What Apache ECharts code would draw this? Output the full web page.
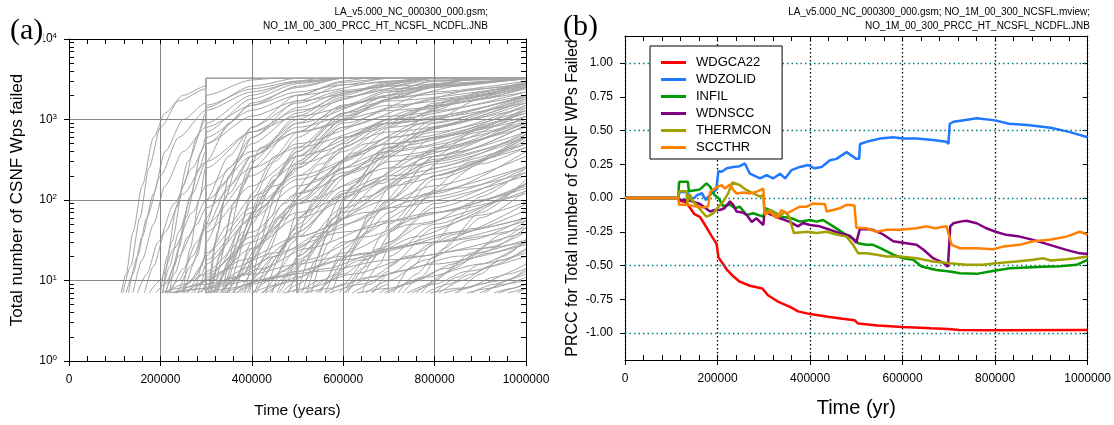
<!DOCTYPE html>
<html><head><meta charset="utf-8">
<script src="https://cdn.jsdelivr.net/npm/echarts@6/dist/echarts.min.js"></script>
<style>html,body{margin:0;padding:0;background:#fff}#c{width:1114px;height:425px}</style>
</head><body><div id="c"></div>
<script>
// ---------- Panel (a): realizations, [time (kyr), count, time, count, ...] ----------
const groupEarly = [
 [114,7, 125,12, 140,40, 160,150, 185,600, 210,1200, 250,2000, 299,2600, 300,3250, 1000,3250],
 [118,7, 135,15, 155,60, 175,250, 200,800, 240,1700, 299,2400, 300,3250, 1000,3250],
 [125,7, 140,12, 160,35, 185,120, 210,400, 250,1000, 299,1600, 300,3250, 1000,3250],
 [130,7, 150,20, 170,60, 200,200, 240,600, 300,1300, 400,2200, 500,2900, 600,3250, 1000,3250],
 [140,7, 160,18, 185,50, 210,150, 250,400, 300,800, 400,1500, 500,2200, 600,2700, 800,3250, 1000,3250],
 [150,7, 170,12, 195,30, 230,90, 270,250, 300,500, 400,1100, 500,1700, 700,2600, 1000,3250],
 [165,7, 185,15, 210,40, 250,120, 300,300, 400,700, 500,1100, 700,1900, 1000,2800],
 [175,7, 200,10, 230,25, 270,70, 300,150, 400,400, 500,700, 700,1300, 1000,2200],
 [190,7, 210,9, 240,20, 280,50, 300,80, 400,250, 500,450, 700,900, 1000,1600],
 [200,7, 215,20, 235,80, 260,300, 299,1000, 300,1400, 400,2600, 500,3250, 1000,3250],
 [205,7, 225,30, 250,150, 280,600, 299,1200, 300,2000, 400,3100, 450,3250, 1000,3250],
 [212,7, 230,15, 255,60, 285,250, 299,400, 300,700, 400,1800, 500,2800, 600,3250, 1000,3250],
 [220,7, 240,25, 265,110, 290,400, 299,600, 300,900, 400,2000, 500,3000, 550,3250, 1000,3250],
 [250,7, 265,25, 285,100, 299,250, 300,500, 400,1500, 500,2600, 600,3250, 1000,3250]
];
const group200k = [
 [205,7, 220,15, 240,40, 270,120, 300,300, 350,900, 400,1600, 500,2500, 600,3250, 1000,3250],
 [210,7, 230,12, 260,35, 300,100, 350,350, 400,800, 500,1600, 600,2300, 800,3250, 1000,3250],
 [215,7, 240,10, 270,20, 300,45, 350,150, 400,350, 500,800, 700,1700, 1000,2700],
 [222,7, 250,14, 280,30, 300,50, 400,200, 500,500, 700,1100, 1000,2000],
 [230,7, 260,9, 290,15, 300,22, 400,80, 500,200, 700,500, 1000,1000],
 [238,7, 270,16, 300,50, 330,150, 400,500, 500,1200, 600,2000, 700,2800, 800,3250, 1000,3250],
 [245,7, 275,11, 300,20, 350,50, 400,110, 500,280, 700,700, 1000,1400],
 [252,7, 280,20, 300,60, 350,250, 400,600, 500,1400, 600,2200, 800,3250, 1000,3250],
 [260,7, 290,12, 300,16, 400,60, 500,150, 700,400, 1000,900],
 [268,7, 290,9, 300,11, 400,35, 500,90, 700,250, 1000,600],
 [275,7, 295,18, 300,30, 350,120, 400,350, 500,900, 700,2000, 900,3250, 1000,3250],
 [283,7, 300,13, 400,40, 500,120, 700,350, 1000,800],
 [290,7, 300,9, 400,25, 500,60, 700,180, 1000,450],
 [210,7, 250,9, 300,12, 400,30, 500,70, 700,200, 1000,500],
 [228,7, 300,8, 400,15, 500,35, 700,100, 1000,260]
];
const jump300k = [
 [299,7, 300,3250, 1000,3250],
 [299,7, 300,1500, 400,2400, 500,3000, 600,3250, 1000,3250],
 [299,7, 300,600, 400,1300, 500,2000, 700,3000, 800,3250, 1000,3250],
 [299,7, 300,250, 400,700, 500,1300, 700,2400, 1000,3250],
 [299,7, 300,100, 400,350, 500,700, 700,1500, 1000,2600],
 [299,7, 300,40, 400,150, 500,350, 700,900, 1000,1900],
 [299,7, 300,18, 400,70, 500,180, 700,500, 1000,1200],
 [305,7, 320,30, 340,100, 370,300, 400,600, 500,1700, 600,2700, 700,3250, 1000,3250],
 [308,7, 325,40, 350,200, 400,800, 500,2000, 600,3000, 650,3250, 1000,3250],
 [312,7, 335,25, 360,90, 400,300, 500,1100, 600,2100, 700,2900, 800,3250, 1000,3250],
 [318,7, 345,30, 380,150, 420,450, 500,1000, 600,1900, 800,3100, 1000,3250],
 [325,7, 350,18, 400,100, 450,300, 500,600, 600,1400, 700,2200, 900,3200, 1000,3250],
 [335,7, 370,40, 400,120, 450,350, 500,700, 600,1500, 800,2700, 1000,3250],
 [342,7, 380,30, 420,110, 500,400, 600,1100, 700,1800, 900,2900, 1000,3200],
 [350,7, 400,50, 450,180, 500,400, 600,1200, 800,2600, 1000,3200],
 [385,7, 420,40, 460,150, 500,300, 600,900, 800,2200, 1000,3000],
 [395,7, 440,60, 480,200, 500,280, 600,800, 700,1400, 900,2400, 1000,2800]
];
const group300k = [
 [310,7, 330,20, 360,80, 400,250, 500,900, 600,1800, 700,2600, 800,3250, 1000,3250],
 [315,7, 340,12, 380,40, 420,120, 500,350, 600,800, 800,1800, 1000,2800],
 [322,7, 350,15, 400,60, 500,250, 600,600, 800,1500, 1000,2400],
 [330,7, 360,10, 400,25, 500,100, 600,250, 800,700, 1000,1300],
 [338,7, 370,25, 400,70, 450,200, 500,450, 600,1200, 700,2000, 800,2800, 900,3250, 1000,3250],
 [345,7, 380,12, 420,30, 500,90, 600,220, 800,600, 1000,1100],
 [355,7, 390,9, 450,20, 500,40, 600,110, 800,350, 1000,700],
 [362,7, 400,30, 450,120, 500,350, 600,1000, 700,1800, 800,2600, 1000,3250],
 [370,7, 410,14, 460,45, 500,90, 600,300, 700,600, 1000,1700],
 [380,7, 420,11, 480,30, 500,40, 600,120, 800,400, 1000,900],
 [390,7, 430,20, 480,80, 500,120, 600,450, 700,900, 900,2000, 1000,2500],
 [400,7, 440,10, 500,25, 600,80, 800,300, 1000,650],
 [410,7, 450,16, 500,50, 600,200, 700,450, 800,800, 1000,1600],
 [420,7, 460,9, 499,15, 500,60, 600,250, 700,600, 1000,1900],
 [430,7, 470,25, 499,70, 500,300, 600,1000, 700,1800, 800,2500, 1000,3250],
 [440,7, 480,12, 500,20, 600,70, 800,280, 1000,600],
 [455,7, 490,15, 500,18, 600,50, 800,150, 1000,350],
 [465,7, 499,10, 500,120, 600,400, 700,800, 1000,2000],
 [475,7, 500,9, 600,30, 800,110, 1000,260],
 [490,7, 499,8, 500,35, 600,130, 700,300, 1000,900],
 [300,7, 330,15, 380,50, 450,150, 550,400, 700,1000, 850,1800, 1000,2500],
 [320,7, 360,20, 420,80, 500,250, 600,600, 750,1300, 1000,2600],
 [330,7, 380,12, 440,40, 520,130, 620,350, 780,900, 1000,1800],
 [345,7, 400,18, 460,60, 540,180, 650,500, 800,1100, 1000,2000],
 [360,7, 410,25, 470,90, 550,280, 650,700, 800,1500, 1000,2900],
 [375,7, 430,14, 500,45, 600,150, 750,450, 1000,1300],
 [405,7, 450,20, 520,70, 620,220, 760,600, 1000,1500],
 [425,7, 470,13, 540,35, 650,110, 800,320, 1000,850],
 [445,7, 490,30, 540,110, 620,380, 720,900, 850,1800, 1000,2700],
 [460,7, 510,16, 580,50, 680,160, 820,450, 1000,1100]
];
const jump500k = [
 [499,7, 500,2000, 600,2900, 700,3250, 1000,3250],
 [499,7, 500,700, 600,1500, 700,2300, 800,3000, 1000,3250],
 [499,7, 500,200, 600,500, 700,1000, 1000,2200],
 [499,7, 500,60, 600,200, 700,450, 1000,1200],
 [499,7, 500,20, 600,60, 700,150, 1000,500]
];
const group500k = [
 [510,7, 540,18, 580,60, 600,100, 700,400, 800,900, 1000,2000],
 [520,7, 560,10, 600,25, 700,100, 800,250, 1000,700],
 [530,7, 570,30, 600,80, 700,350, 800,800, 1000,1800],
 [545,7, 590,12, 650,40, 700,70, 800,200, 1000,550],
 [560,7, 600,9, 650,18, 700,30, 800,90, 1000,250],
 [575,7, 610,20, 660,70, 700,140, 800,450, 1000,1300],
 [590,7, 630,10, 680,22, 700,30, 800,80, 1000,220],
 [605,7, 640,14, 690,40, 700,50, 800,180, 1000,600],
 [620,7, 660,9, 699,13, 700,100, 800,350, 1000,1100],
 [640,7, 680,16, 699,25, 700,40, 800,120, 1000,400],
 [660,7, 699,9, 700,15, 800,45, 1000,160],
 [680,7, 699,8, 700,12, 800,30, 1000,90],
 [480,7, 520,20, 580,60, 650,150, 750,350, 900,700, 1000,950],
 [550,7, 600,20, 660,60, 740,170, 850,400, 1000,850],
 [610,7, 650,15, 720,50, 800,130, 900,280, 1000,450],
 [665,7, 699,12, 700,40, 780,120, 880,300, 1000,650],
 [560,7, 620,25, 700,100, 800,350, 900,800, 1000,1400],
 [500,7, 540,30, 600,120, 700,450, 800,1000, 900,1800, 1000,2500],
 [520,7, 570,40, 620,150, 700,500, 800,1300, 900,2200, 1000,3000]
];
const jump700k = [
 [699,7, 700,2200, 800,3000, 900,3250, 1000,3250],
 [699,7, 700,800, 800,1600, 1000,2800],
 [699,7, 700,250, 800,600, 1000,1500],
 [699,7, 700,70, 800,200, 1000,600],
 [699,7, 700,20, 800,50, 1000,160]
];
const group700k = [
 [720,7, 760,12, 800,20, 850,35, 900,60, 1000,130],
 [740,7, 790,9, 840,14, 900,22, 1000,45],
 [760,7, 800,10, 860,18, 930,30, 1000,50],
 [780,7, 830,9, 880,12, 950,18, 1000,25],
 [800,7, 850,11, 900,16, 1000,30],
 [820,7, 870,8, 930,11, 1000,16],
 [845,7, 900,9, 960,12, 1000,14],
 [870,7, 920,8, 1000,11],
 [900,7, 950,9, 1000,10],
 [930,7, 970,8, 1000,9],
 [960,7, 1000,8],
 [710,7, 750,15, 800,30, 850,60, 900,110, 1000,250],
 [730,7, 770,11, 820,25, 900,70, 1000,180]
];
const groupLow = [
 [200,7, 240,8, 300,9, 400,12, 500,16, 600,20, 800,30, 1000,45],
 [215,7, 300,8, 400,10, 550,13, 700,18, 900,25, 1000,30],
 [235,7, 280,9, 350,14, 450,22, 600,40, 800,70, 1000,120],
 [255,7, 300,10, 380,18, 500,35, 650,70, 850,140, 1000,220],
 [280,7, 330,9, 420,14, 520,25, 700,55, 1000,140],
 [300,7, 350,8, 450,11, 600,18, 800,30, 1000,55],
 [310,7, 360,11, 450,20, 560,40, 700,80, 1000,200],
 [340,7, 400,9, 500,13, 650,22, 850,40, 1000,60],
 [365,7, 420,10, 520,18, 650,35, 800,70, 1000,150],
 [400,7, 460,9, 560,14, 700,25, 900,45, 1000,60],
 [430,7, 500,11, 600,22, 750,50, 1000,130],
 [470,7, 520,8, 620,12, 760,20, 1000,40],
 [500,7, 550,10, 640,18, 760,35, 900,65, 1000,95],
 [515,7, 570,8, 660,11, 800,16, 1000,28],
 [540,7, 600,12, 680,25, 780,50, 900,100, 1000,160],
 [570,7, 640,9, 720,13, 850,20, 1000,32],
 [600,7, 660,11, 740,20, 850,38, 1000,75],
 [630,7, 700,8, 780,11, 900,16, 1000,22],
 [650,7, 700,10, 780,18, 880,32, 1000,60],
 [690,7, 740,9, 820,14, 920,22, 1000,30],
 [700,7, 760,10, 840,16, 920,26, 1000,40],
 [750,7, 800,9, 870,13, 1000,20],
 [770,7, 820,12, 880,22, 950,38, 1000,55],
 [790,7, 850,8, 950,10, 1000,12],
 [810,7, 860,10, 920,15, 1000,24],
 [850,7, 900,12, 950,20, 1000,32],
 [880,7, 930,9, 1000,13],
 [910,7, 960,10, 1000,14],
 [940,7, 1000,9],
 [980,7, 1000,8]
];

// ---------- Panel (b): PRCC, [time (kyr), value] ----------
const prccNames = ['WDGCA22','WDZOLID','INFIL','WDNSCC','THERMCON','SCCTHR'];
const prccColors = ['#ff0000','#1f78ff','#009a00','#800080','#a0a000','#ff8000'];
const wdgca22 = [[0,0],[115,0],[120,-0.02],[130,-0.03],[140,-0.07],[150,-0.12],[162,-0.14],[173,-0.2],[187,-0.28],[198,-0.34],[202,-0.44],[210,-0.48],[220,-0.53],[234,-0.58],[248,-0.62],[270,-0.65],[297,-0.67],[309,-0.72],[332,-0.77],[359,-0.81],[374,-0.84],[400,-0.86],[439,-0.88],[470,-0.895],[496,-0.905],[504,-0.93],[546,-0.945],[600,-0.955],[661,-0.965],[699,-0.97],[722,-0.977],[800,-0.98],[1000,-0.977]];
const wdzolid = [[0,0],[115,0],[118,0.045],[135,0.045],[137,0],[150,0],[155,0.02],[166,0.035],[175,-0.015],[183,0.02],[191,0.047],[197,0.06],[202,0.2],[209,0.195],[220,0.22],[234,0.23],[248,0.236],[259,0.256],[270,0.18],[292,0.145],[306,0.17],[320,0.145],[335,0.18],[346,0.145],[360,0.207],[378,0.23],[396,0.244],[410,0.22],[425,0.23],[443,0.28],[457,0.29],[479,0.34],[500,0.29],[506,0.29],[508,0.4],[522,0.416],[551,0.44],[580,0.45],[601,0.44],[630,0.44],[666,0.43],[695,0.416],[699,0.40],[702,0.55],[710,0.565],[740,0.58],[760,0.59],[800,0.575],[830,0.55],[870,0.54],[920,0.52],[960,0.49],[1000,0.45]];
const infil = [[0,0],[115,0],[117,0.12],[136,0.12],[138,0.05],[155,0.06],[162,0.064],[176,0.108],[184,0.084],[194,0.02],[202,0],[212,-0.06],[227,-0.05],[238,-0.076],[248,-0.064],[263,-0.126],[277,-0.113],[288,-0.126],[299,-0.138],[303,-0.076],[320,-0.1],[338,-0.138],[360,-0.15],[378,-0.175],[400,-0.163],[414,-0.175],[428,-0.163],[450,-0.21],[472,-0.26],[493,-0.30],[504,-0.335],[522,-0.347],[536,-0.347],[551,-0.37],[580,-0.42],[601,-0.446],[623,-0.458],[641,-0.508],[673,-0.534],[702,-0.544],[724,-0.557],[760,-0.562],[795,-0.54],[832,-0.52],[868,-0.515],[903,-0.51],[940,-0.505],[976,-0.495],[1000,-0.458]];
const wdnscc = [[0,0],[115,0],[117,-0.015],[136,-0.015],[140,-0.027],[162,-0.044],[184,-0.1],[194,-0.089],[205,-0.089],[215,-0.076],[227,-0.025],[234,-0.05],[241,-0.1],[256,-0.11],[263,-0.125],[274,-0.177],[284,-0.15],[292,-0.177],[299,-0.2],[302,-0.09],[313,-0.12],[335,-0.15],[356,-0.177],[374,-0.21],[385,-0.185],[400,-0.2],[421,-0.21],[443,-0.235],[464,-0.26],[486,-0.28],[500,-0.33],[504,-0.335],[507,-0.236],[515,-0.23],[536,-0.236],[558,-0.27],[580,-0.32],[608,-0.335],[630,-0.347],[644,-0.38],[666,-0.446],[688,-0.48],[698,-0.51],[700,-0.52],[703,-0.21],[710,-0.187],[724,-0.175],[738,-0.168],[760,-0.187],[781,-0.224],[801,-0.25],[824,-0.273],[853,-0.286],[882,-0.31],[918,-0.347],[954,-0.384],[983,-0.41],[1000,-0.414]];
const thermcon = [[0,0],[115,0],[117,0.05],[133,0.05],[135,-0.04],[140,0.03],[145,-0.02],[155,-0.05],[166,-0.1],[176,-0.138],[182,-0.13],[191,-0.113],[202,-0.064],[212,-0.027],[223,0.034],[232,0.115],[248,0.096],[262,0.06],[277,0.034],[292,0.01],[299,0.022],[301,-0.1],[313,-0.09],[335,-0.138],[345,-0.1],[355,-0.14],[365,-0.26],[393,-0.25],[414,-0.26],[436,-0.25],[457,-0.27],[479,-0.286],[493,-0.347],[504,-0.41],[522,-0.41],[544,-0.42],[565,-0.434],[594,-0.434],[630,-0.446],[666,-0.47],[702,-0.483],[738,-0.495],[774,-0.495],[801,-0.483],[846,-0.47],[882,-0.458],[904,-0.446],[920,-0.463],[954,-0.453],[975,-0.446],[1000,-0.434]];
const sccthr = [[0,0],[115,0],[117,-0.05],[136,-0.05],[140,-0.06],[155,-0.064],[170,-0.07],[180,-0.06],[184,0.044],[198,0.08],[209,0.096],[216,0.07],[227,0.1],[234,0.06],[241,0.034],[255,0.04],[270,0.034],[285,0.047],[299,0.07],[302,-0.125],[313,-0.1],[328,-0.15],[338,-0.089],[350,-0.113],[364,-0.089],[378,-0.064],[393,-0.064],[407,-0.04],[421,-0.044],[432,-0.044],[436,-0.1],[450,-0.089],[464,-0.076],[479,-0.05],[496,-0.055],[500,-0.22],[522,-0.224],[544,-0.25],[565,-0.236],[594,-0.236],[630,-0.224],[652,-0.21],[670,-0.224],[695,-0.21],[699,-0.224],[706,-0.347],[724,-0.372],[760,-0.372],[796,-0.38],[817,-0.36],[853,-0.347],[882,-0.32],[918,-0.31],[954,-0.286],[983,-0.25],[1000,-0.27]];
const prccData = [wdgca22, wdzolid, infil, wdnscc, thermcon, sccthr];

// ---------- tick / gridline values ----------
const logMajorTicks = [1, 10, 100, 1000, 10000];
const logMinorTicks = [2,3,4,5,6,7,8,9,20,30,40,50,60,70,80,90,200,300,400,500,600,700,800,900,2000,3000,4000,5000,6000,7000,8000,9000];
const prccTicks = [-1, -0.75, -0.5, -0.25, 0, 0.25, 0.5, 0.75, 1];
const prccGridValues = [-1, -0.5, 0, 0.5, 1];

const FONT = '"Liberation Sans", Arial, sans-serif';
const SERIF = '"Liberation Serif", "Times New Roman", serif';
const KYR = 1000;

function flatToPairs(flat) {
  const out = [];
  for (let i = 0; i < flat.length; i += 2) out.push([flat[i] * KYR, flat[i + 1]]);
  return out;
}

const series = [];
[groupEarly, group200k, jump300k, group300k, jump500k, group500k, jump700k, group700k, groupLow].forEach(g => {
  g.forEach(line => series.push({
    type: 'line', xAxisIndex: 0, yAxisIndex: 0, data: flatToPairs(line),
    showSymbol: false, symbol: 'none', smooth: 0.25, smoothMonotone: 'x',
    lineStyle: { color: '#a3a3a3', width: 1 }, silent: true, z: 2
  }));
});

// helper for horizontal teal gridlines in (b)
series.push({
  type: 'line', xAxisIndex: 3, yAxisIndex: 3, data: [[0, 0]], showSymbol: false, symbol: 'none',
  lineStyle: { opacity: 0 }, silent: true, z: 1,
  markLine: { silent: true, symbol: 'none', label: { show: false }, animation: false,
    lineStyle: { color: '#008080', type: [1.5, 3], width: 1.3 },
    data: prccGridValues.map(v => ({ yAxis: v })) }
});

prccNames.forEach((n, i) => series.push({
  name: n, type: 'line', xAxisIndex: 3, yAxisIndex: 3,
  data: prccData[i].map(p => [p[0] * KYR, p[1]]),
  showSymbol: false, symbol: 'none',
  lineStyle: { color: prccColors[i], width: 2.5 }, itemStyle: { color: prccColors[i] },
  silent: true, z: 3 + i
}));

const black = { color: '#000', width: 1 };
function minorX(grid, pos) {
  return { gridIndex: grid, type: 'value', min: 0, max: 1000000, interval: 40000, position: pos, z: 6,
    axisLine: { show: pos === 'top', onZero: false, lineStyle: black },
    axisTick: { show: true, inside: true, length: 5, lineStyle: black },
    axisLabel: { show: false }, splitLine: { show: false } };
}
function mainX(grid, name, nameSize, nameGap, split, z) {
  return { gridIndex: grid, type: 'value', min: 0, max: 1000000, interval: 200000, position: 'bottom', z: z,
    axisLine: { show: true, onZero: false, lineStyle: black },
    axisTick: { show: true, inside: false, length: 5, lineStyle: black },
    axisLabel: { fontFamily: FONT, fontSize: 12, color: '#000', margin: 13, formatter: v => String(v) },
    splitLine: split,
    name: name, nameLocation: 'middle', nameGap: nameGap,
    nameTextStyle: { fontFamily: FONT, fontSize: nameSize, color: '#000' } };
}

const option = {
  animation: false,
  backgroundColor: '#fff',
  grid: [
    { left: 69, top: 39, width: 457, height: 322 },
    { left: 625, top: 36, width: 463, height: 324 }
  ],
  xAxis: [
    mainX(0, 'Time (years)', 15.5, 42, { show: true, lineStyle: { color: '#858585', width: 1 } }, 5),
    minorX(0, 'bottom'),
    minorX(0, 'top'),
    mainX(1, 'Time (yr)', 20, 38, { show: true, lineStyle: { color: '#000', width: 1.3, type: [1.5, 2.5] } }, 0),
    minorX(1, 'bottom'),
    minorX(1, 'top')
  ],
  yAxis: [
    { gridIndex: 0, type: 'log', logBase: 10, min: 1, max: 10000, position: 'left', z: 5,
      axisLine: { show: true, onZero: false, lineStyle: black },
      axisTick: { show: true, inside: false, length: 5, lineStyle: black },
      axisLabel: { margin: 12, formatter: v => '{b|10}{s|' + Math.round(Math.log10(v)) + '}',
        rich: { b: { fontFamily: FONT, fontSize: 12, color: '#000', lineHeight: 14 },
                s: { fontFamily: FONT, fontSize: 8, color: '#000', lineHeight: 8, verticalAlign: 'top' } } },
      splitLine: { show: true, lineStyle: { color: '#858585', width: 1 } },
      name: 'Total number of CSNF Wps failed', nameLocation: 'middle', nameGap: 43,
      nameTextStyle: { fontFamily: FONT, fontSize: 17, color: '#000' } },
    { gridIndex: 0, type: 'log', logBase: 10, min: 1, max: 10000, position: 'left', z: 6,
      axisLine: { show: false }, axisLabel: { show: false }, splitLine: { show: false },
      axisTick: { show: true, inside: true, length: 5, lineStyle: black, customValues: logMinorTicks } },
    { gridIndex: 0, type: 'log', logBase: 10, min: 1, max: 10000, position: 'right', z: 6,
      axisLine: { show: true, onZero: false, lineStyle: black }, axisLabel: { show: false }, splitLine: { show: false },
      axisTick: { show: true, inside: true, length: 5, lineStyle: black, customValues: logMajorTicks.concat(logMinorTicks) } },
    { gridIndex: 1, type: 'value', min: -1.2, max: 1.2, position: 'left',
      axisLine: { show: true, onZero: false, lineStyle: black },
      axisTick: { show: true, inside: false, length: 5, lineStyle: black, customValues: prccTicks },
      axisLabel: { fontFamily: FONT, fontSize: 12, color: '#000', margin: 12, customValues: prccTicks, formatter: v => v.toFixed(2) },
      splitLine: { show: false },
      name: 'PRCC for Total number of CSNF WPs Failed', nameLocation: 'middle', nameGap: 44,
      nameTextStyle: { fontFamily: FONT, fontSize: 16, color: '#000' } },
    { gridIndex: 1, type: 'value', min: -1.2, max: 1.2, position: 'right',
      axisLine: { show: true, onZero: false, lineStyle: black }, axisLabel: { show: false }, splitLine: { show: false },
      axisTick: { show: true, inside: true, length: 5, lineStyle: black, customValues: prccTicks } }
  ],
  legend: {
    data: prccNames, orient: 'vertical', left: 650, top: 46, selectedMode: false,
    icon: 'rect', itemWidth: 25, itemHeight: 3, itemGap: 4,
    padding: [10, 11, 5, 11], borderColor: '#000', borderWidth: 1, backgroundColor: '#fff',
    textStyle: { fontFamily: FONT, fontSize: 13, color: '#000', lineHeight: 13, padding: [0, 0, 0, 5] },
    z: 20
  },
  graphic: [
    { type: 'text', x: 488, y: 12, z: 50, style: { text: 'LA_v5.000_NC_000300_000.gsm;', font: '10px ' + FONT, fill: '#000', align: 'right', verticalAlign: 'middle' } },
    { type: 'text', x: 488, y: 26, z: 50, style: { text: 'NO_1M_00_300_PRCC_HT_NCSFL_NCDFL.JNB', font: '10px ' + FONT, fill: '#000', align: 'right', verticalAlign: 'middle' } },
    { type: 'text', x: 1090, y: 12, z: 50, style: { text: 'LA_v5.000_NC_000300_000.gsm; NO_1M_00_300_NCSFL.mview;', font: '10px ' + FONT, fill: '#000', align: 'right', verticalAlign: 'middle' } },
    { type: 'text', x: 1090, y: 26, z: 50, style: { text: 'NO_1M_00_300_PRCC_HT_NCSFL_NCDFL.JNB', font: '10px ' + FONT, fill: '#000', align: 'right', verticalAlign: 'middle' } },
    { type: 'text', x: 10, y: 31, z: 50, style: { text: '(a)', font: '30px ' + SERIF, fill: '#000', align: 'left', verticalAlign: 'middle', backgroundColor: '#fff' } },
    { type: 'text', x: 563, y: 27, z: 50, style: { text: '(b)', font: '30px ' + SERIF, fill: '#000', align: 'left', verticalAlign: 'middle' } }
  ],
  series: series
};

const chart = echarts.init(document.getElementById('c'), null, { renderer: 'canvas' });
chart.setOption(option);
</script></body></html>
